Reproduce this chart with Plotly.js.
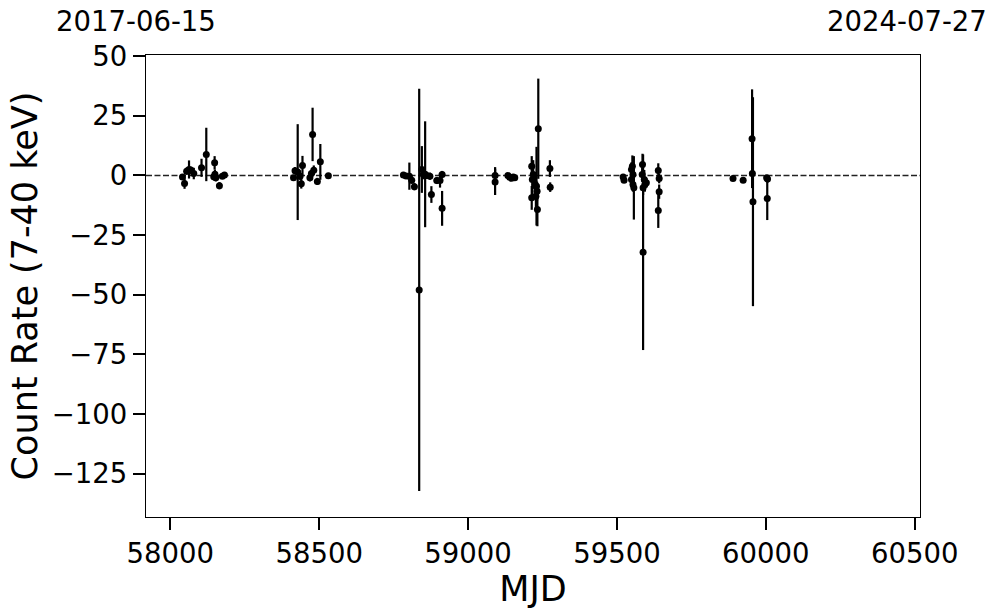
<!DOCTYPE html>
<html>
<head>
<meta charset="utf-8">
<script src="https://cdn.plot.ly/plotly-3.0.1.min.js"></script>
<style>html,body{margin:0;padding:0;background:#fff;}#chart{width:997px;height:613px;}</style>
</head>
<body>
<div id="chart"></div>
<script>
// Observation times (MJD)
const mjd = [
  58041, 58048, 58055, 58063, 58070, 58079, 58105, 58121, 58149, 58146, 58150, 58153, 58165, 58175, 58182,
  58414, 58419, 58428, 58436, 58440, 58444, 58469, 58474, 58478, 58482, 58494, 58504, 58531,
  58783, 58792, 58803, 58811, 58820, 58836, 58845, 58850, 58856, 58861, 58872, 58877, 58895, 58906, 58913, 58913,
  59091, 59091, 59134, 59140, 59146, 59152, 59157,
  59214, 59214, 59216, 59219, 59225, 59228, 59230, 59232, 59233, 59236, 59275, 59276,
  59521, 59524, 59549, 59552, 59554, 59549, 59554, 59557, 59585, 59586, 59588, 59588, 59592, 59594, 59599,
  59639, 59642, 59642, 59639,
  59890, 59924, 59954, 59955, 59957, 60003, 60006, 60005
];
// Count rate (7-40 keV)
const rate = [
  -0.7, -3.4, 1.8, 2.5, 2.2, 0.8, 3.2, 8.8, 5.3, -0.5, 0.5, -1.0, -4.3, -0.3, 0.2,
  -1.0, 2.0, 1.4, -0.3, -3.5, 4.2, -1.0, 0.8, 17.2, 2.2, -2.5, 5.7, -0.1,
  0.2, -0.2, -0.3, -2.0, -4.7, -48.0, 2.5, 0.4, 0.5, 0.0, -0.3, -8.0, -2.1, -2.1, 0.4, -13.8,
  0.0, -2.7, 0.0, -0.8, -1.2, -0.6, -1.0,
  3.9, -9.4, -1.7, 0.4, -3.8, -8.7, -4.5, -6.6, -14.3, 19.6, 2.9, -4.9,
  -0.6, -2.0, 2.5, 3.9, 0.4, -1.7, -3.8, -5.2, 0.4, 4.6, -32.2, -5.2, -1.7, -3.8, -3.1,
  2.1, -1.3, -6.8, -14.7,
  -1.3, -2.0, 15.4, 0.8, -11.0, -1.0, -1.5, -9.7
];
// 1-sigma uncertainties
const err = [
  1.0, 2.2, 1.5, 3.8, 1.5, 2.4, 3.8, 11.2, 2.8, 1.5, 2.0, 1.5, 1.5, 1.0, 1.0,
  1.0, 1.5, 20.1, 1.5, 2.0, 4.0, 1.5, 1.5, 11.2, 2.0, 1.5, 7.5, 0.8,
  1.0, 1.0, 5.7, 1.5, 1.5, 84.3, 9.8, 2.0, 22.2, 1.5, 1.5, 3.5, 1.5, 3.0, 1.5, 7.3,
  3.5, 5.5, 1.0, 1.0, 1.0, 1.0, 1.0,
  4.2, 5.0, 8.0, 6.0, 4.0, 5.0, 16.5, 4.0, 7.0, 21.0, 3.5, 2.0,
  1.0, 1.0, 3.0, 4.5, 5.0, 3.0, 3.0, 13.3, 3.0, 4.5, 41.0, 3.0, 4.0, 3.0, 2.0,
  3.0, 2.0, 3.0, 7.3,
  0.8, 0.8, 20.7, 3.0, 43.8, 1.0, 1.5, 9.0
];
const xTicks = [58000, 58500, 59000, 59500, 60000, 60500];
const yTicks = [-125, -100, -75, -50, -25, 0, 25, 50];
const xRange = [57918.5, 60518];
const yRange = [-143.2, 50.5];
const startDate = "2017-06-15";
const endDate = "2024-07-27";

const font = "DejaVu Sans, sans-serif";

const trace = {
  x: mjd, y: rate, type: "scatter", mode: "markers",
  marker: {color: "black", size: 7},
  error_y: {type: "data", array: err, visible: true, color: "black", thickness: 2.2, width: 0},
  hoverinfo: "x+y", showlegend: false
};

const layout = {
  width: 997, height: 613,
  margin: {l: 146, r: 77, t: 55, b: 96, pad: 0},
  paper_bgcolor: "white", plot_bgcolor: "white",
  font: {family: font, color: "black"},
  showlegend: false,
  xaxis: {
    range: xRange, tickvals: xTicks, ticktext: xTicks.map(String),
    showgrid: false, zeroline: false,
    showline: true, mirror: true, linecolor: "black", linewidth: 1.2,
    ticks: "outside", ticklen: 12, tickwidth: 2, tickcolor: "black",
    tickfont: {size: 27.5, family: font},
    title: {text: "MJD", font: {size: 35, family: font}, standoff: 8}
  },
  yaxis: {
    range: yRange, tickvals: yTicks, ticktext: yTicks.map(v => v < 0 ? "\u2212" + Math.abs(v) : String(v)),
    showgrid: false, zeroline: false,
    showline: true, mirror: true, linecolor: "black", linewidth: 1.2,
    ticks: "outside", ticklen: 12, tickwidth: 2, tickcolor: "black",
    tickfont: {size: 27.5, family: font},
    title: {text: "Count Rate (7-40 keV)", font: {size: 35, family: font}, standoff: 3}
  },
  shapes: [{
    type: "line", xref: "paper", x0: 0, x1: 1, yref: "y", y0: 0, y1: 0,
    line: {color: "#222", width: 1.6, dash: "6px,2.5px"}, layer: "below"
  }],
  annotations: [
    {text: startDate, xref: "paper", yref: "paper", x: -0.0123, y: 1, yshift: 34, xanchor: "center", yanchor: "middle", showarrow: false, font: {size: 27.5, family: font}},
    {text: endDate, xref: "paper", yref: "paper", x: 0.983, y: 1, yshift: 34, xanchor: "center", yanchor: "middle", showarrow: false, font: {size: 27.5, family: font}}
  ]
};

Plotly.newPlot("chart", [trace], layout, {displayModeBar: false, staticPlot: true});
</script>
</body>
</html>
